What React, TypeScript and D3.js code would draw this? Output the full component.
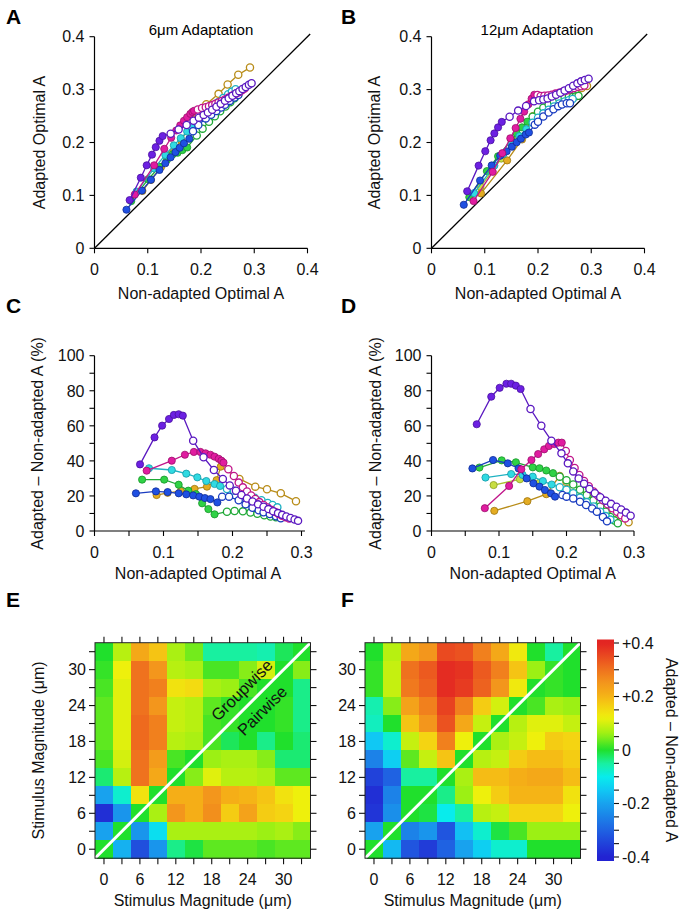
import React from 'react';
import * as d3 from 'd3';

const FONT = '"Liberation Sans", Arial, Helvetica, sans-serif';

// ---------------- Panel C (6 µm adaptation): x = non-adapted optimal A, p = % change ----------------
const C_PURPLE_X = [0.066, 0.087, 0.098, 0.108, 0.115, 0.122, 0.128, 0.143, 0.158, 0.173, 0.186, 0.196, 0.205, 0.213, 0.221, 0.229, 0.237, 0.245, 0.252, 0.259, 0.266, 0.272, 0.278, 0.284, 0.29, 0.295];
const C_PURPLE_P = [38, 53.4, 60.1, 63.9, 66.2, 66.6, 65.8, 51.5, 42.1, 34.8, 29.7, 26, 23, 20.5, 18.5, 16.8, 15.2, 13.8, 12.5, 11.3, 10.2, 9.2, 8.3, 7.4, 6.6, 5.8];
const C_PURPLE_FILLED = 7;
const C_MAGENTA_X = [0.0756, 0.112, 0.131, 0.144, 0.1535, 0.161, 0.168, 0.174, 0.18, 0.184, 0.187, 0.194, 0.202, 0.209, 0.215, 0.221, 0.227, 0.233, 0.239, 0.245, 0.251, 0.257, 0.262, 0.267, 0.272, 0.277, 0.282];
const C_MAGENTA_P = [34.4, 40.1, 43.5, 45.1, 45.1, 44.3, 43.5, 42.4, 41.2, 40.1, 39, 35.2, 31.4, 27.6, 24.9, 22.5, 20.3, 18.3, 16.5, 14.9, 13.4, 12, 10.8, 9.7, 8.7, 7.9, 7.2];
const C_MAGENTA_FILLED = 11;
const C_CYAN_X = [0.079, 0.112, 0.133, 0.149, 0.162, 0.174, 0.182, 0.192, 0.202, 0.212, 0.222, 0.232, 0.242, 0.251, 0.258, 0.265];
const C_CYAN_P = [35.8, 34.8, 32.7, 30.6, 28.5, 26.8, 25.7, 24, 23, 21.8, 20.5, 19, 17.5, 16, 14.8, 13.5];
const C_CYAN_FILLED = 7;
const C_GREEN_X = [0.069, 0.101, 0.122, 0.136, 0.147, 0.156, 0.165, 0.174, 0.192, 0.203, 0.215, 0.226, 0.236, 0.246, 0.255, 0.263, 0.27];
const C_GREEN_P = [29.3, 29.3, 26.4, 23, 21, 15.8, 12.5, 9.5, 11, 11.4, 11.2, 10.5, 9.8, 9, 8.3, 7.8, 7.5];
const C_GREEN_FILLED = 8;
const C_BLUE_X = [0.06, 0.089, 0.106, 0.122, 0.133, 0.143, 0.152, 0.16, 0.168, 0.178, 0.185, 0.195, 0.209, 0.219, 0.229, 0.238, 0.245, 0.254, 0.263, 0.27];
const C_BLUE_P = [21.5, 22.6, 22.2, 21.5, 20.9, 20.3, 19.6, 18.8, 18.2, 16.3, 19.6, 19.6, 17.5, 15.2, 13.3, 11.8, 10.7, 9.7, 8.4, 7.3];
const C_BLUE_FILLED = 10;
const C_GOLD_X = [0.09, 0.106, 0.125, 0.145, 0.163, 0.177, 0.183, 0.21, 0.233, 0.25, 0.27, 0.292];
const C_GOLD_P = [20.5, 21.8, 22.8, 24, 25.3, 29, 36.7, 29.7, 25.3, 23.8, 21.5, 17];
const C_GOLD_FILLED = 7;
const C_LIME_X: number[] = [];
const C_LIME_P: number[] = [];
const C_LIME_FILLED = 0;

// ---------------- Panel D (12 µm adaptation) ----------------
const D_PURPLE_X = [0.067, 0.0885, 0.101, 0.111, 0.118, 0.125, 0.132, 0.1467, 0.1627, 0.1776, 0.1925, 0.202, 0.21, 0.218, 0.226, 0.234, 0.242, 0.25, 0.258, 0.266, 0.274, 0.281, 0.288, 0.295];
const D_PURPLE_P = [60.9, 76.6, 81.7, 84, 84, 82.9, 81, 69.6, 60, 51.5, 44.3, 38.6, 34, 30, 27, 24, 21.5, 19.3, 17.3, 15.5, 13.8, 12.3, 10.5, 8.7];
const D_PURPLE_FILLED = 7;
const D_MAGENTA_X = [0.079, 0.115, 0.133, 0.148, 0.158, 0.167, 0.174, 0.182, 0.188, 0.193, 0.199, 0.205, 0.212, 0.219, 0.226, 0.233, 0.24, 0.247, 0.254, 0.261, 0.268, 0.275, 0.281, 0.287];
const D_MAGENTA_P = [13, 25.7, 35.2, 40.5, 43.9, 46.6, 48.5, 49.6, 50.4, 50.4, 45.6, 40.5, 36, 32, 28.5, 25.5, 22.5, 20, 17.5, 15.2, 13, 11, 9, 7.2];
const D_MAGENTA_FILLED = 10;
const D_CYAN_X = [0.08, 0.118, 0.135, 0.15, 0.165, 0.178, 0.19, 0.2, 0.21, 0.22, 0.23, 0.24, 0.25, 0.258, 0.265];
const D_CYAN_P = [30.5, 32.5, 32, 31, 28.5, 26.5, 25, 23.5, 21.5, 19, 16.5, 14, 11, 8.5, 6.5];
const D_CYAN_FILLED = 6;
const D_GREEN_X = [0.071, 0.104, 0.125, 0.15, 0.16, 0.17, 0.18, 0.19, 0.2, 0.21, 0.22, 0.23, 0.24, 0.25, 0.258, 0.265, 0.271, 0.276];
const D_GREEN_P = [36.2, 40.3, 39.2, 36.3, 35.8, 34.5, 33, 31, 29, 26.5, 23.5, 20.5, 17.5, 14, 11, 8, 6, 4.4];
const D_GREEN_FILLED = 7;
const D_BLUE_X = [0.0606, 0.0912, 0.113, 0.129, 0.141, 0.151, 0.16, 0.168, 0.177, 0.183, 0.194, 0.2, 0.21, 0.22, 0.229, 0.238, 0.245, 0.254, 0.26];
const D_BLUE_P = [35.7, 40.5, 38.6, 35.7, 30, 27.2, 25.3, 23.4, 21.5, 19.6, 20.5, 19.6, 18.6, 16.7, 14.8, 12.9, 11, 8, 5.5];
const D_BLUE_FILLED = 10;
const D_GOLD_X = [0.093, 0.142, 0.17, 0.19, 0.2, 0.21, 0.22, 0.232, 0.245, 0.258, 0.27, 0.282, 0.292];
const D_GOLD_P = [11.5, 17, 21, 31.5, 28, 25, 22, 19, 16, 13, 10, 7.5, 5];
const D_GOLD_FILLED = 4;
const D_LIME_X = [0.092, 0.131, 0.16];
const D_LIME_P = [26.2, 29.5, 27.5];
const D_LIME_FILLED = 3;

// ---------------- Heatmaps (rows from stimulus 33 at top down to 0) ----------------
const STIM = [0, 3, 6, 9, 12, 15, 18, 21, 24, 27, 30, 33];
const STIM_LABELS = [0, 6, 12, 18, 24, 30];

const E_ROWS = [
  [0.0, 0.08, 0.22, 0.18, 0.07, 0.04, -0.05, -0.05, -0.05, -0.06, -0.02, 0.0],
  [0.01, 0.12, 0.3, 0.25, 0.08, 0.07, 0.02, 0.02, 0.05, 0.1, 0.0, 0.05],
  [0.02, 0.11, 0.3, 0.28, 0.14, 0.15, 0.07, 0.06, 0.02, 0.0, 0.0, -0.04],
  [0.03, 0.11, 0.3, 0.25, 0.09, 0.08, 0.03, 0.01, 0.0, 0.0, 0.01, -0.04],
  [0.03, 0.11, 0.31, 0.28, 0.09, 0.08, 0.02, 0.01, 0.0, 0.0, 0.01, -0.04],
  [0.03, 0.11, 0.31, 0.28, 0.08, 0.07, 0.02, -0.02, 0.0, -0.04, 0.0, -0.03],
  [0.02, 0.1, 0.3, 0.24, 0.02, 0.0, 0.06, 0.07, 0.07, 0.05, -0.03, -0.03],
  [-0.03, 0.08, 0.3, 0.22, 0.0, 0.05, 0.11, 0.08, 0.08, 0.07, 0.03, 0.03],
  [-0.2, -0.08, 0.14, 0.0, 0.21, 0.21, 0.25, 0.21, 0.2, 0.18, 0.14, 0.12],
  [-0.38, -0.22, 0.0, 0.07, 0.25, 0.21, 0.26, 0.17, 0.23, 0.17, 0.16, 0.12],
  [-0.2, 0.0, -0.22, -0.12, 0.07, 0.07, 0.07, 0.07, 0.07, 0.06, 0.07, 0.05],
  [0.0, -0.18, -0.33, -0.22, -0.04, -0.01, 0.03, 0.03, 0.03, 0.02, 0.03, 0.03],
];
const F_ROWS = [
  [0.0, 0.08, 0.22, 0.25, 0.35, 0.34, 0.28, 0.22, 0.13, 0.0, -0.05, 0.0],
  [0.01, 0.09, 0.3, 0.33, 0.39, 0.38, 0.33, 0.28, 0.18, 0.06, 0.01, 0.0],
  [0.01, 0.09, 0.29, 0.32, 0.39, 0.37, 0.32, 0.25, 0.13, 0.0, 0.01, 0.0],
  [-0.06, 0.05, 0.23, 0.28, 0.36, 0.28, 0.17, 0.1, 0.0, 0.02, 0.07, 0.06],
  [-0.07, 0.0, 0.18, 0.25, 0.34, 0.22, 0.09, 0.0, 0.08, 0.11, 0.11, 0.09],
  [-0.15, -0.08, 0.09, 0.16, 0.28, 0.12, 0.0, 0.07, 0.09, 0.12, 0.17, 0.16],
  [-0.25, -0.14, 0.03, 0.09, 0.18, 0.0, 0.08, 0.09, 0.17, 0.19, 0.19, 0.17],
  [-0.35, -0.3, -0.05, -0.05, 0.0, 0.07, 0.19, 0.19, 0.21, 0.22, 0.22, 0.19],
  [-0.38, -0.25, 0.0, 0.0, -0.04, 0.06, 0.12, 0.17, 0.2, 0.2, 0.2, 0.14],
  [-0.37, -0.23, 0.0, -0.01, -0.1, -0.05, 0.08, 0.09, 0.16, 0.16, 0.16, 0.12],
  [-0.2, 0.0, -0.25, -0.22, -0.32, -0.16, -0.08, -0.01, 0.02, 0.06, 0.06, 0.06],
  [0.0, -0.17, -0.32, -0.36, -0.3, -0.2, -0.14, -0.08, -0.08, 0.0, 0.0, 0.0],
];

const CB_TICKS = [0.4, 0.2, 0, -0.2, -0.4];
const CB_LABELS = ['+0.4', '+0.2', '0', '-0.2', '-0.4'];
const CB_MINOR = [0.4, 0.35, 0.3, 0.25, 0.2, 0.15, 0.1, 0.05, 0, -0.05, -0.1, -0.15, -0.2, -0.25, -0.3, -0.35, -0.4];

// colour map (rainbow: blue -> cyan -> green -> yellow -> red)
const CMAP_DOMAIN = [-0.4, -0.3, -0.2, -0.15, -0.1, -0.05, 0, 0.06, 0.12, 0.16, 0.2, 0.25, 0.3, 0.35, 0.4];
const CMAP_RANGE = ['#2222d2', '#1f62e2', '#18a2ee', '#10c8f4', '#08ecec', '#18f0a0', '#20e02c', '#9cf014', '#eef00c', '#f4d412', '#f5b416', '#f3961c', '#ef721e', '#ea4a20', '#e22422'];
const cmap = d3.scaleLinear<string>().domain(CMAP_DOMAIN).range(CMAP_RANGE).interpolate(d3.interpolateRgb).clamp(true);

const STYLE: Record<string, { fill: string; stroke: string; line: string }> = {
  lime: { fill: '#c8de42', stroke: '#8aa022', line: '#a6c030' },
  gold: { fill: '#e4ac22', stroke: '#9c7410', line: '#b88c18' },
  green: { fill: '#30d246', stroke: '#18962a', line: '#1fa836' },
  cyan: { fill: '#30dae2', stroke: '#1598a6', line: '#1eb2c2' },
  blue: { fill: '#1f50e2', stroke: '#102c96', line: '#1a3cc0' },
  magenta: { fill: '#e01ca0', stroke: '#9c0f6c', line: '#c0168a' },
  purple: { fill: '#6c20e2', stroke: '#4a10a0', line: '#5a18c0' },
};

type S = { name: string; x: number[]; p: number[]; filled: number };
const C_SERIES: S[] = [
  { name: 'lime', x: C_LIME_X, p: C_LIME_P, filled: C_LIME_FILLED },
  { name: 'gold', x: C_GOLD_X, p: C_GOLD_P, filled: C_GOLD_FILLED },
  { name: 'green', x: C_GREEN_X, p: C_GREEN_P, filled: C_GREEN_FILLED },
  { name: 'cyan', x: C_CYAN_X, p: C_CYAN_P, filled: C_CYAN_FILLED },
  { name: 'blue', x: C_BLUE_X, p: C_BLUE_P, filled: C_BLUE_FILLED },
  { name: 'magenta', x: C_MAGENTA_X, p: C_MAGENTA_P, filled: C_MAGENTA_FILLED },
  { name: 'purple', x: C_PURPLE_X, p: C_PURPLE_P, filled: C_PURPLE_FILLED },
];
const D_SERIES: S[] = [
  { name: 'lime', x: D_LIME_X, p: D_LIME_P, filled: D_LIME_FILLED },
  { name: 'gold', x: D_GOLD_X, p: D_GOLD_P, filled: D_GOLD_FILLED },
  { name: 'green', x: D_GREEN_X, p: D_GREEN_P, filled: D_GREEN_FILLED },
  { name: 'cyan', x: D_CYAN_X, p: D_CYAN_P, filled: D_CYAN_FILLED },
  { name: 'blue', x: D_BLUE_X, p: D_BLUE_P, filled: D_BLUE_FILLED },
  { name: 'magenta', x: D_MAGENTA_X, p: D_MAGENTA_P, filled: D_MAGENTA_FILLED },
  { name: 'purple', x: D_PURPLE_X, p: D_PURPLE_P, filled: D_PURPLE_FILLED },
];

const fmt1 = (v: number) => (v === 0 ? '0' : d3.format('.1f')(v));
const TICK = 5;
const FS = 16;

function SeriesMarks({ s, xs, ys, mode }: { s: S; xs: any; ys: any; mode: 'ratio' | 'pct' }) {
  const st = STYLE[s.name];
  const pts: [number, number][] = s.x.map((x, i) => [x, mode === 'ratio' ? x * (1 + s.p[i] / 100) : s.p[i]]);
  if (!pts.length) return null;
  const line = d3.line<[number, number]>().x((d) => xs(d[0])).y((d) => ys(d[1]));
  return (
    <g>
      <path d={line(pts) || ''} fill="none" stroke={st.line} strokeWidth={1.3} />
      {pts.map((d, i) => (
        <circle key={i} cx={xs(d[0])} cy={ys(d[1])} r={3.6}
          fill={i < s.filled ? st.fill : '#fff'} stroke={i < s.filled ? st.stroke : st.line} strokeWidth={i < s.filled ? 0.8 : 1.3} />
      ))}
    </g>
  );
}

function Scatter(props: {
  xr: [number, number]; yr: [number, number]; xMax: number; yMax: number; axisXMax: number;
  xTicks: number[]; xLabels: number[]; yTicks: number[]; yLabels: number[]; yFmt: (v: number) => string;
  series: S[]; mode: 'ratio' | 'pct'; diag?: boolean; ylab: string; xlab: string; ylabX: number; xlabY: number;
}) {
  const { xr, yr, xMax, yMax } = props;
  const xs = d3.scaleLinear().domain([0, xMax]).range(xr);
  const ys = d3.scaleLinear().domain([0, yMax]).range(yr);
  const y0 = ys(0);
  const x0 = xs(0);
  const cx = (xr[0] + xr[1]) / 2;
  const cy = (yr[0] + yr[1]) / 2;
  return (
    <g fontFamily={FONT} fontSize={FS} fill="#111">
      {props.diag && <line x1={xs(0)} y1={ys(0)} x2={xs(0.405)} y2={ys(0.405)} stroke="#000" strokeWidth={1.3} />}
      <line x1={x0} x2={xs(props.axisXMax)} y1={y0} y2={y0} stroke="#000" strokeWidth={1.2} />
      <line x1={x0} x2={x0} y1={y0} y2={ys(yMax)} stroke="#000" strokeWidth={1.2} />
      {props.xTicks.map((t) => <line key={'xt' + t} x1={xs(t)} x2={xs(t)} y1={y0} y2={y0 + TICK} stroke="#000" strokeWidth={1.1} />)}
      {props.yTicks.map((t) => <line key={'yt' + t} x1={x0} x2={x0 - TICK} y1={ys(t)} y2={ys(t)} stroke="#000" strokeWidth={1.1} />)}
      {props.xLabels.map((t) => <text key={'xl' + t} x={xs(t)} y={y0 + 27} textAnchor="middle">{fmt1(t)}</text>)}
      {props.yLabels.map((t) => <text key={'yl' + t} x={x0 - 10} y={ys(t)} dy="0.36em" textAnchor="end">{props.yFmt(t)}</text>)}
      <text x={cx} y={props.xlabY} textAnchor="middle">{props.xlab}</text>
      <text transform={`translate(${props.ylabX},${cy}) rotate(-90)`} textAnchor="middle" dy="0.36em">{props.ylab}</text>
      {props.series.map((s) => <SeriesMarks key={s.name} s={s} xs={xs} ys={ys} mode={props.mode} />)}
    </g>
  );
}

function Heatmap({ rows, left, top, size, showYTitle, yLabX }: { rows: number[][]; left: number; top: number; size: number; showYTitle: boolean; yLabX: number }) {
  const xs = d3.scaleLinear().domain([-1.5, 34.5]).range([left, left + size]);
  const ys = d3.scaleLinear().domain([-1.5, 34.5]).range([top + size, top]);
  const n = STIM.length;
  const right = left + size;
  const bottom = top + size;
  const TK = 6;
  return (
    <g fontFamily={FONT} fontSize={FS} fill="#111">
      <g shapeRendering="crispEdges">
        {rows.map((row, ri) => {
          const yv = STIM[n - 1 - ri];
          return row.map((v, ci) => {
            const xv = STIM[ci];
            const xa = xs(xv - 1.5), xb = xs(xv + 1.5);
            const ya = ys(yv + 1.5), yb = ys(yv - 1.5);
            return <rect key={ri + '-' + ci} x={xa} y={ya} width={xb - xa + 0.4} height={yb - ya + 0.4} fill={cmap(v)} />;
          });
        })}
      </g>
      <line x1={xs(-1.5)} y1={ys(-1.5)} x2={xs(34.5)} y2={ys(34.5)} stroke="#fff" strokeWidth={3} />
      <rect x={left} y={top} width={size} height={size} fill="none" stroke="#222" strokeWidth={1} />
      {STIM.map((s) => (
        <g key={'t' + s} stroke="#111" strokeWidth={1.1}>
          <line x1={xs(s)} x2={xs(s)} y1={bottom} y2={bottom + TK} />
          <line x1={xs(s)} x2={xs(s)} y1={top} y2={top - TK} />
          <line x1={left} x2={left - TK} y1={ys(s)} y2={ys(s)} />
          <line x1={right} x2={right + TK} y1={ys(s)} y2={ys(s)} />
        </g>
      ))}
      {STIM_LABELS.map((s) => <text key={'bl' + s} x={xs(s)} y={bottom + 27} textAnchor="middle">{s}</text>)}
      {STIM_LABELS.map((s) => <text key={'ll' + s} x={yLabX} y={ys(s)} dy="0.36em" textAnchor="end">{s}</text>)}
      <text x={(left + right) / 2} y={bottom + 48} textAnchor="middle">Stimulus Magnitude (μm)</text>
      {showYTitle && <text transform={`translate(38,${(top + bottom) / 2}) rotate(-90)`} textAnchor="middle" dy="0.36em">Stimulus Magnitude (μm)</text>}
    </g>
  );
}

function ColorBar({ x, y, w, h, ty0, ty1 }: { x: number; y: number; w: number; h: number; ty0: number; ty1: number }) {
  const vs = d3.scaleLinear().domain([0.4, -0.4]).range([ty0, ty1]);
  const stops = d3.range(0, 1.0001, 0.02);
  return (
    <g fontFamily={FONT} fontSize={FS} fill="#111">
      <defs>
        <linearGradient id="cbgrad" x1="0" y1="0" x2="0" y2="1">
          {stops.map((t) => <stop key={t} offset={t} stopColor={cmap(vs.invert(y + t * h))} />)}
        </linearGradient>
      </defs>
      <rect x={x} y={y} width={w} height={h} fill="url(#cbgrad)" />
      {CB_MINOR.map((t) => <line key={'m' + t} x1={x + w} x2={x + w + 5} y1={vs(t)} y2={vs(t)} stroke="#111" strokeWidth={1.1} />)}
      {CB_TICKS.map((t, i) => <text key={'c' + t} x={x + w + 8} y={vs(t)} dy="0.36em">{CB_LABELS[i]}</text>)}
      <text transform={`translate(${x + w + 58},${(ty0 + ty1) / 2}) rotate(90)`} textAnchor="middle" dy="0.36em">Adapted – Non-adapted A</text>
    </g>
  );
}

const A_TICKS = [0, 0.1, 0.2, 0.3, 0.4];
const C_XTICKS = [0, 0.05, 0.1, 0.15, 0.2, 0.25, 0.3];
const C_XLABELS = [0, 0.1, 0.2, 0.3];
const C_YTICKS = [0, 10, 20, 30, 40, 50, 60, 70, 80, 90, 100];
const C_YLABELS = [0, 20, 40, 60, 80, 100];

export default function App() {
  const Letter = ({ x, y, t }: { x: number; y: number; t: string }) => (
    <text x={x} y={y} fontFamily={FONT} fontWeight="bold" fontSize={21} fill="#000">{t}</text>
  );
  return (
    <svg width={683} height={914} style={{ position: 'absolute', left: 0, top: 0, background: '#fff' }}>
      <rect width={683} height={914} fill="#fff" />
      <Letter x={6} y={24} t="A" />
      <Letter x={341} y={24} t="B" />
      <Letter x={6} y={313} t="C" />
      <Letter x={341} y={313} t="D" />
      <Letter x={6} y={607} t="E" />
      <Letter x={341} y={607} t="F" />
      <text x={201} y={35} fontFamily={FONT} fontSize={15} textAnchor="middle">6μm Adaptation</text>
      <text x={537} y={35} fontFamily={FONT} fontSize={15} textAnchor="middle">12μm Adaptation</text>

      <Scatter xr={[94.5, 307.5]} yr={[248.3, 36.7]} xMax={0.4} yMax={0.4} axisXMax={0.4}
        xTicks={A_TICKS} xLabels={A_TICKS} yTicks={A_TICKS} yLabels={A_TICKS} yFmt={fmt1}
        series={C_SERIES} mode="ratio" diag ylab="Adapted Optimal A" xlab="Non-adapted Optimal A" ylabX={39} xlabY={299} />
      <Scatter xr={[431.5, 644.5]} yr={[248.3, 36.7]} xMax={0.4} yMax={0.4} axisXMax={0.4}
        xTicks={A_TICKS} xLabels={A_TICKS} yTicks={A_TICKS} yLabels={A_TICKS} yFmt={fmt1}
        series={D_SERIES} mode="ratio" diag ylab="Adapted Optimal A" xlab="Non-adapted Optimal A" ylabX={374} xlabY={299} />
      <Scatter xr={[94.5, 301.5]} yr={[531, 355.7]} xMax={0.3} yMax={100} axisXMax={0.305}
        xTicks={C_XTICKS} xLabels={C_XLABELS} yTicks={C_YTICKS} yLabels={C_YLABELS} yFmt={(v) => String(v)}
        series={C_SERIES} mode="pct" ylab="Adapted – Non-adapted A (%)" xlab="Non-adapted Optimal A" ylabX={37} xlabY={579} />
      <Scatter xr={[431.5, 634]} yr={[531, 355.7]} xMax={0.3} yMax={100} axisXMax={0.3}
        xTicks={C_XTICKS} xLabels={C_XLABELS} yTicks={C_YTICKS} yLabels={C_YLABELS} yFmt={(v) => String(v)}
        series={D_SERIES} mode="pct" ylab="Adapted – Non-adapted A (%)" xlab="Non-adapted Optimal A" ylabX={375} xlabY={579} />

      <Heatmap rows={E_ROWS} left={95} top={642.7} size={215.5} showYTitle yLabX={86} />
      <g fontFamily={FONT} fontSize={16.5} fill="#111">
        <text transform="translate(241.7,690) rotate(-45)" textAnchor="middle" dy="0.36em">Groupwise</text>
        <text transform="translate(262,710.5) rotate(-45)" textAnchor="middle" dy="0.36em">Pairwise</text>
      </g>
      <Heatmap rows={F_ROWS} left={365} top={642.7} size={215.5} showYTitle={false} yLabX={356} />
      <ColorBar x={597} y={639.5} w={17} h={221.5} ty0={643} ty1={857} />
    </svg>
  );
}
